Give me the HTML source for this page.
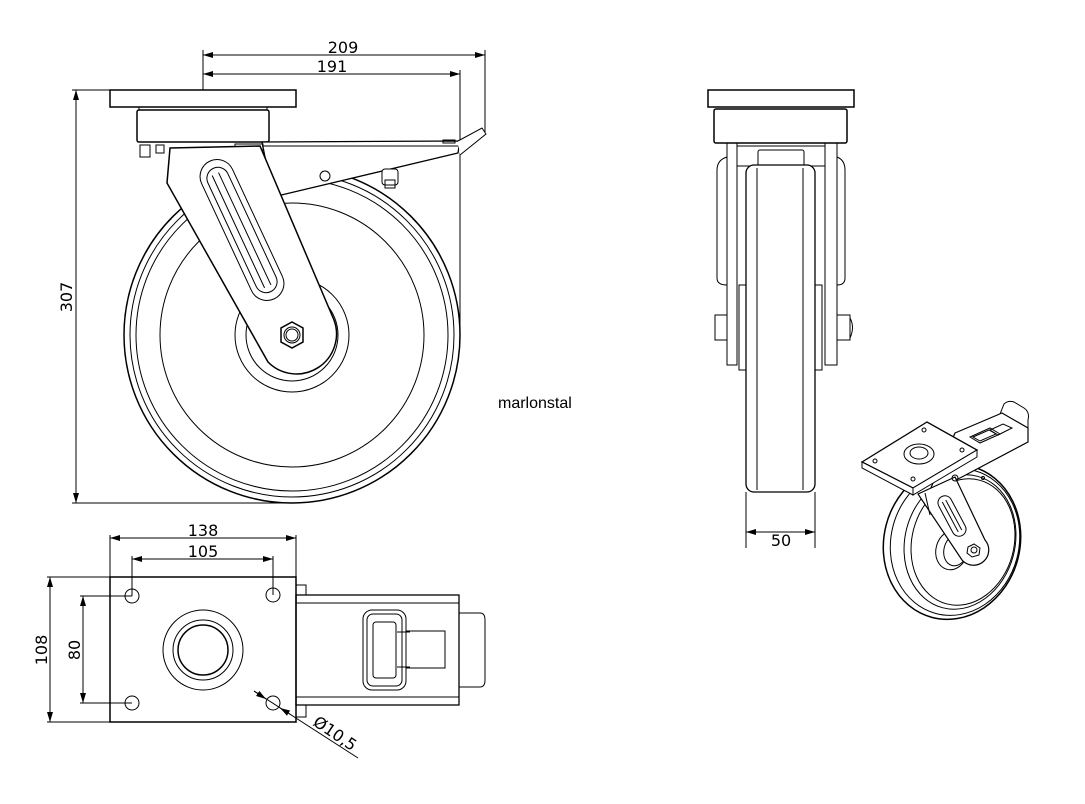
<!DOCTYPE html>
<html><head><meta charset="utf-8"><style>
html,body{margin:0;padding:0;background:#fff;}
svg{display:block;}
text{font-family:"DejaVu Sans","Liberation Sans",sans-serif;fill:#000;}
</style></head><body>
<svg width="1085" height="804" viewBox="0 0 1085 804" xmlns="http://www.w3.org/2000/svg">
<defs>
<marker id="a" markerWidth="10" markerHeight="6" refX="10" refY="3" orient="auto-start-reverse" markerUnits="userSpaceOnUse"><path d="M0,0 L10,3 L0,6 z" fill="#000"/></marker>
</defs>
<g fill="none" stroke="#000" stroke-width="1">
<!-- ===== FRONT VIEW ===== -->
<line x1="203" y1="55" x2="485" y2="55" marker-start="url(#a)" marker-end="url(#a)"/>
<line x1="203" y1="74" x2="460" y2="74" marker-start="url(#a)" marker-end="url(#a)"/>
<line x1="203" y1="50" x2="203" y2="90"/>
<line x1="485" y1="50" x2="485" y2="132"/>
<line x1="460" y1="70" x2="460" y2="330"/>
<line x1="76" y1="90" x2="76" y2="503" marker-start="url(#a)" marker-end="url(#a)"/>
<line x1="72" y1="90" x2="110" y2="90"/>
<line x1="72" y1="503" x2="292" y2="503"/>
<rect x="110" y="90" width="186" height="17" stroke-width="1.5"/>
<rect x="139" y="107" width="128" height="3"/>
<rect x="137" y="110" width="132" height="32" rx="2" stroke-width="1.5"/>
<circle cx="292" cy="335" r="168" stroke-width="1.5"/>
<circle cx="292" cy="335" r="162"/>
<circle cx="292" cy="335" r="156"/>
<circle cx="292" cy="335" r="132"/>
<circle cx="292" cy="335" r="57"/>
<circle cx="292" cy="335" r="46"/>
<path d="M262,142 L460,141 L458,153 L273,197 Z" fill="#fff" stroke-width="1.3"/>
<line x1="262" y1="146" x2="458" y2="146"/>
<path d="M458,141 L482,128 L486,134 L460,155" fill="#fff"/>
<circle cx="325" cy="176" r="5"/>
<rect x="382" y="169" width="16" height="16" rx="3" fill="#fff"/>
<rect x="385" y="180" width="10" height="8"/>
<rect x="443" y="140" width="12" height="3"/>
<rect x="140" y="145" width="10" height="12"/><rect x="156" y="145" width="8" height="8"/>
<rect x="235" y="144" width="28" height="6"/>
<path d="M170,148 L260,146 L334,320 A40,40 0 0 1 268,362 L167,183 Z" fill="#fff" stroke-width="1.5"/>
<g transform="translate(242,230) rotate(-25)">
<rect x="-17" y="-76" width="34" height="152" rx="17" fill="#fff"/>
<rect x="-11" y="-68" width="22" height="136" rx="11"/>
<line x1="-4" y1="-62" x2="-4" y2="62"/><line x1="3" y1="-62" x2="3" y2="62"/>
</g>
<polygon points="292,322 303,328 303,342 292,348 281,342 281,328" fill="#fff" stroke-width="1.5"/>
<circle cx="292" cy="335" r="8"/><circle cx="292" cy="335" r="6"/>

<!-- ===== SIDE VIEW ===== -->
<rect x="708" y="90" width="146" height="17" stroke-width="1.5"/>
<rect x="714" y="109" width="133" height="34" rx="2" stroke-width="1.5"/>
<path d="M727,157 Q717,160 717,170 L717,278 Q717,285 727,285" />
<path d="M837,157 Q845,160 845,170 L845,278 Q845,285 837,285" />
<rect x="727" y="143" width="10" height="222"/>
<rect x="825" y="143" width="12" height="222"/>
<rect x="737" y="146" width="88" height="20"/>
<rect x="758" y="150" width="46" height="18" rx="2"/>
<rect x="739" y="285" width="83" height="85"/>
<rect x="746" y="165" width="69" height="327" rx="8" fill="#fff" stroke-width="1.3"/>
<line x1="757" y1="168" x2="757" y2="490"/>
<line x1="803" y1="168" x2="803" y2="490"/>
<rect x="715" y="315" width="12" height="25"/>
<rect x="837" y="315" width="13" height="25"/>
<path d="M850,318 Q855,327 850,338"/>
<line x1="746" y1="492" x2="746" y2="548"/>
<line x1="815" y1="492" x2="815" y2="548"/>
<line x1="746" y1="532" x2="815" y2="532" marker-start="url(#a)" marker-end="url(#a)"/>

<!-- ===== ISO VIEW ===== -->
<ellipse cx="952" cy="542" rx="68" ry="78" transform="rotate(15 952 542)" fill="#fff" stroke-width="1.5"/>
<ellipse cx="955" cy="542" rx="64" ry="74" transform="rotate(15 955 542)"/>
<ellipse cx="960" cy="542" rx="55" ry="68" transform="rotate(15 960 542)"/>
<ellipse cx="963" cy="542" rx="51" ry="64" transform="rotate(15 963 542)"/>
<ellipse cx="952" cy="550" rx="16" ry="20" transform="rotate(15 952 550)"/>
<ellipse cx="956" cy="550" rx="12" ry="16" transform="rotate(15 956 550)"/>
<!-- brake lever -->
<path d="M955,433 L1002,413 L1028,428 L1028,442 L960,478 L930,490 Z" fill="#fff" stroke-width="1.2"/>
<path d="M1000,414 L1004,404 Q1008,400 1014,402 L1024,408 Q1030,412 1028,420 L1028,428"/>
<polygon points="970,437 990,428 1000,434 980,443" />
<polygon points="973,437 989,430 996,434 980,441" />
<polygon points="990,430 1003,424 1012,428 998,435"/>
<!-- fork -->
<path d="M918,494 L955,477 L985,540 A14,14 0 0 1 962,560 Z" fill="#fff" stroke-width="1.2"/>
<line x1="925" y1="493" x2="930" y2="515"/>
<g transform="translate(952,516) rotate(-28)"><rect x="-7" y="-22" width="14" height="44" rx="7" fill="#fff"/><line x1="-2" y1="-17" x2="-2" y2="17"/><line x1="2" y1="-17" x2="2" y2="17"/></g>
<polygon points="968,547 974,544 980,548 979,555 972,557 967,553" fill="#fff"/>
<circle cx="974" cy="550" r="3"/>
<circle cx="955" cy="478" r="3"/><circle cx="983" cy="478" r="1.5"/>
<!-- plate -->
<polygon points="862,462 927,422 977,450 913,488" fill="#fff" stroke-width="1.3"/>
<polygon points="862,462 862,468 913,495 913,488" fill="#fff"/>
<polygon points="913,488 913,495 977,457 977,450" fill="#fff"/>
<ellipse cx="919" cy="454" rx="15" ry="10"/>
<ellipse cx="919" cy="453" rx="9" ry="6"/>
<circle cx="875" cy="461" r="2"/><circle cx="924" cy="430" r="2"/><circle cx="962" cy="450" r="2"/><circle cx="913" cy="479" r="2"/>

<!-- ===== BOTTOM VIEW ===== -->
<line x1="110" y1="538" x2="296" y2="538" marker-start="url(#a)" marker-end="url(#a)"/>
<line x1="132" y1="559" x2="273" y2="559" marker-start="url(#a)" marker-end="url(#a)"/>
<line x1="110" y1="535" x2="110" y2="577"/>
<line x1="296" y1="535" x2="296" y2="577"/>
<line x1="132" y1="556" x2="132" y2="596"/>
<line x1="273" y1="556" x2="273" y2="595"/>
<line x1="50" y1="577" x2="50" y2="722" marker-start="url(#a)" marker-end="url(#a)"/>
<line x1="47" y1="577" x2="110" y2="577"/>
<line x1="47" y1="722" x2="110" y2="722"/>
<line x1="83" y1="596" x2="83" y2="703" marker-start="url(#a)" marker-end="url(#a)"/>
<line x1="80" y1="596" x2="132" y2="596"/>
<line x1="80" y1="703" x2="132" y2="703"/>
<rect x="110" y="577" width="186" height="145" stroke-width="1.5"/>
<circle cx="132" cy="596" r="7"/><circle cx="273" cy="595" r="7"/>
<circle cx="132" cy="703" r="7"/><circle cx="273" cy="703" r="7"/>
<circle cx="203" cy="650" r="40"/><circle cx="203" cy="650" r="30"/><circle cx="203" cy="650" r="25" stroke-width="1.5"/>
<rect x="296" y="595" width="163" height="110" stroke-width="1.3"/>
<line x1="296" y1="603" x2="459" y2="603"/>
<line x1="296" y1="697" x2="459" y2="697"/>
<rect x="296" y="585" width="10" height="10"/><rect x="296" y="705" width="10" height="12"/>
<path d="M459,613 L480,613 Q485,613 485,620 L485,680 Q485,687 480,687 L459,687"/>
<rect x="363" y="610" width="43" height="80" rx="9"/>
<rect x="367" y="614" width="35" height="72" rx="6"/>
<rect x="373" y="622" width="23" height="56" rx="3"/>
<rect x="406" y="631" width="39" height="37"/>
<line x1="397" y1="632" x2="410" y2="632"/><line x1="397" y1="667" x2="410" y2="667"/>
<line x1="254" y1="691" x2="358" y2="758"/>
<line x1="254" y1="691" x2="266" y2="699" marker-end="url(#a)"/>
<line x1="290" y1="714" x2="280" y2="708" marker-end="url(#a)"/>
</g>
<g font-size="16">
<text x="343" y="53" text-anchor="middle">209</text>
<text x="332" y="72" text-anchor="middle">191</text>
<text transform="translate(72,297) rotate(-90)" text-anchor="middle">307</text>
<text x="781" y="546" text-anchor="middle">50</text>
<text x="203" y="536" text-anchor="middle">138</text>
<text x="203" y="557" text-anchor="middle">105</text>
<text transform="translate(47,650) rotate(-90)" text-anchor="middle">108</text>
<text transform="translate(80,650) rotate(-90)" text-anchor="middle">80</text>
<text transform="translate(332,738) rotate(34)" text-anchor="middle">Ø10,5</text>
</g>
<text x="498" y="408" font-size="16" style="font-family:'Liberation Sans',sans-serif">marlonstal</text>
</svg>
</body></html>
